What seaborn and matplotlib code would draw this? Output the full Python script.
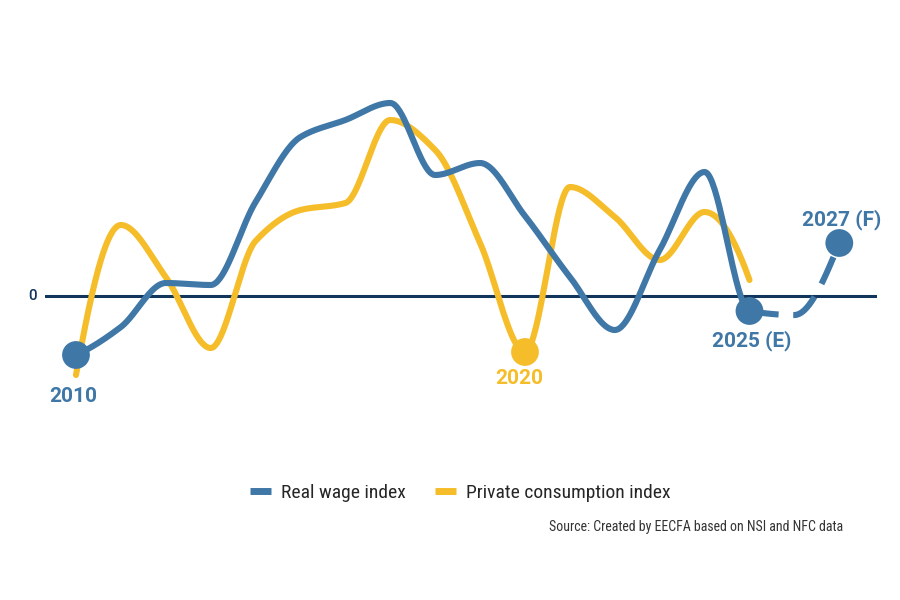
import numpy as np
import pandas as pd
import matplotlib
matplotlib.use("Agg")
import matplotlib.pyplot as plt
from matplotlib.lines import Line2D
import seaborn as sns

# Data (index change, arbitrary units, 0 = baseline)
years = list(range(2010, 2026))
real_wage = [-2.95, -1.55, 0.65, 0.55, 4.7, 7.95, 8.8, 9.65, 6.05, 6.65,
             4.0, 0.95, -1.7, 2.3, 6.2, -0.75]
forecast_years = [2025, 2026, 2027]
real_wage_forecast = [-0.75, -0.95, 2.65]
consumption = [-3.95, 3.55, 0.95, -2.6, 2.75, 4.3, 4.65, 8.8, 7.3, 2.65,
               -2.8, 5.45, 3.95, 1.8, 4.2, 0.8]

BLUE = "#3f77a7"
YELLOW = "#f6bd2a"
NAVY = "#12355b"


def _end_slope(h0, h1, d0, d1):
    m = ((2 * h0 + h1) * d0 - h0 * d1) / (h0 + h1)
    if np.sign(m) != np.sign(d0):
        return 0.0
    if np.sign(d0) != np.sign(d1) and abs(m) > abs(3 * d0):
        return 3 * d0
    return m


def pchip(x, y, xs):
    """Monotone cubic (Fritsch-Carlson) interpolation, scipy-style ends."""
    x = np.asarray(x, float)
    y = np.asarray(y, float)
    h = np.diff(x)
    d = np.diff(y) / h
    m = np.zeros_like(y)
    for i in range(1, len(y) - 1):
        if d[i - 1] * d[i] > 0:
            w1 = 2 * h[i] + h[i - 1]
            w2 = h[i] + 2 * h[i - 1]
            m[i] = (w1 + w2) / (w1 / d[i - 1] + w2 / d[i])
    m[0] = _end_slope(h[0], h[1], d[0], d[1])
    m[-1] = _end_slope(h[-1], h[-2], d[-1], d[-2])
    idx = np.clip(np.searchsorted(x, xs) - 1, 0, len(x) - 2)
    t = (xs - x[idx]) / h[idx]
    h00 = 2 * t**3 - 3 * t**2 + 1
    h10 = t**3 - 2 * t**2 + t
    h01 = -2 * t**3 + 3 * t**2
    h11 = t**3 - t**2
    return h00 * y[idx] + h10 * h[idx] * m[idx] + h01 * y[idx + 1] + h11 * h[idx] * m[idx + 1]


all_years = years + forecast_years[1:]
all_wage = real_wage + real_wage_forecast[1:]

xs = np.linspace(2010, 2025, 600)
xf = np.linspace(2025, 2027, 120)
wage_df = pd.DataFrame({"year": xs, "value": pchip(all_years, all_wage, xs)})
fc_df = pd.DataFrame({"year": xf, "value": pchip(all_years, all_wage, xf)})
cons_df = pd.DataFrame({"year": xs, "value": pchip(years, consumption, xs)})

sns.set_style("white")
plt.rcParams["font.family"] = ["Roboto", "DejaVu Sans"]

fig = plt.figure(figsize=(9, 6), dpi=100)
ax = fig.add_axes([45 / 900, 160 / 600, 832 / 900, 380 / 600])

lw = 4.4
ax.axhline(0, color=NAVY, lw=2.2, zorder=1)
sns.lineplot(data=wage_df, x="year", y="value", ax=ax, color=BLUE, lw=lw,
             solid_capstyle="round", zorder=3)
sns.lineplot(data=fc_df, x="year", y="value", ax=ax, color=BLUE, lw=lw,
             linestyle=(0, (4.8, 2.4)), dash_capstyle="butt", zorder=3)
sns.lineplot(data=cons_df, x="year", y="value", ax=ax, color=YELLOW, lw=lw,
             solid_capstyle="round", zorder=2)

# highlighted points
blue_pts = pd.DataFrame({"year": [2010, 2025, 2027],
                         "value": [real_wage[0], real_wage[-1], real_wage_forecast[-1]]})
sns.scatterplot(data=blue_pts, x="year", y="value", ax=ax, color=BLUE, s=400,
                edgecolor="none", zorder=4)
sns.scatterplot(x=[2020], y=[consumption[10]], ax=ax, color=YELLOW, s=400,
                edgecolor="none", zorder=4)

lab = dict(fontsize=15, fontweight="bold", ha="center", va="center")
ax.text(2009.93, -5.0, "2010", color=BLUE, **lab)
ax.text(2019.87, -4.1, "2020", color=YELLOW, **lab)
ax.text(2025.06, -2.25, "2025 (E)", color=BLUE, **lab)
ax.text(2027.06, 3.8, "2027 (F)", color=BLUE, **lab)
ax.text(2009.04, 0, "0", color=NAVY, fontsize=11, fontweight="medium",
        ha="center", va="center", clip_on=False)

ax.set_xlim(2009.31, 2027.84)
ax.set_ylim(-7.2, 11.8)
ax.set_xlabel("")
ax.set_ylabel("")
ax.set_xticks([])
ax.set_yticks([])
sns.despine(ax=ax, left=True, bottom=True)

narrow = ["Roboto Condensed", "Liberation Sans Narrow", "Roboto", "DejaVu Sans"]
handles = [Line2D([], [], color=BLUE, lw=5, solid_capstyle="butt"),
           Line2D([], [], color=YELLOW, lw=5, solid_capstyle="butt")]
fig.legend(handles, ["Real wage index", "Private consumption index"],
           loc="center", bbox_to_anchor=(460 / 900, 1 - 493 / 600), ncol=2,
           frameon=False, handlelength=1.1, handletextpad=0.5, columnspacing=1.5,
           prop={"family": narrow, "size": 14})
fig.text(843 / 900, 1 - 527 / 600, "Source: Created by EECFA based on NSI and NFC data",
         ha="right", va="center", fontsize=10, color="#333333", family=narrow)

fig.savefig("out.png", dpi=100)
